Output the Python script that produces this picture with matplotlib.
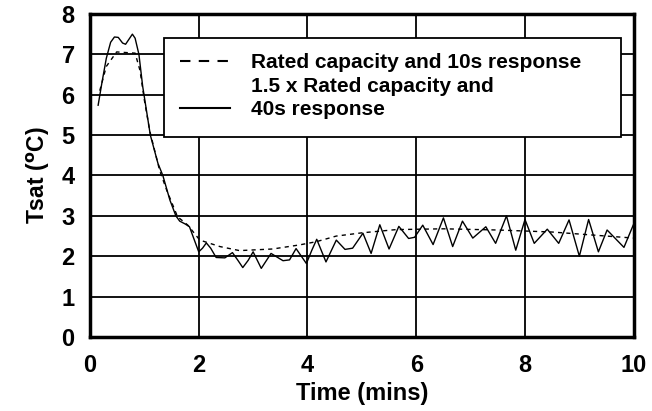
import matplotlib
matplotlib.use('Agg')
from matplotlib import pyplot as plt
from matplotlib.patches import Rectangle
from matplotlib.lines import Line2D

plt.rcParams['font.family'] = ['Liberation Sans', 'DejaVu Sans']
plt.rcParams['font.weight'] = 'bold'

# 1.5 x rated capacity, 40s response (solid)
t_solid = [0.15, 0.22, 0.3, 0.38, 0.45, 0.52, 0.6, 0.655, 0.72, 0.78, 0.83, 0.9,
           0.97, 1.04, 1.11, 1.25, 1.34, 1.47, 1.58, 1.65, 1.75, 1.83, 1.92, 2.0,
           2.07, 2.14, 2.22, 2.32, 2.48, 2.62, 2.72, 2.81, 2.91, 3.0, 3.15, 3.33,
           3.55, 3.67, 3.79, 3.98, 4.08, 4.17, 4.34, 4.53, 4.69, 4.83, 5.02,
           5.17, 5.33, 5.50, 5.68, 5.86, 5.97, 6.12, 6.31, 6.50, 6.67, 6.85, 7.04,
           7.28, 7.46, 7.66, 7.83, 8.0, 8.17, 8.41, 8.62, 8.81, 9.0, 9.17, 9.35,
           9.51, 9.82, 9.99]
y_solid = [5.74, 6.3, 6.9, 7.3, 7.43, 7.42, 7.28, 7.25, 7.38, 7.5, 7.4, 7.0,
           6.2, 5.6, 5.0, 4.3, 4.0, 3.39, 3.0, 2.87, 2.8, 2.73, 2.4, 2.11,
           2.2, 2.33, 2.2, 1.97, 1.96, 2.09, 1.9, 1.72, 1.9, 2.11, 1.70, 2.07,
           1.89, 1.91, 2.19, 1.82, 2.15, 2.42, 1.86, 2.40, 2.17, 2.20, 2.57,
           2.07, 2.78, 2.18, 2.74, 2.44, 2.47, 2.77, 2.29, 2.95, 2.24, 2.87, 2.45,
           2.73, 2.32, 3.0, 2.15, 2.91, 2.32, 2.67, 2.32, 2.90, 2.0, 2.91, 2.11,
           2.65, 2.22, 2.77]

# rated capacity, 10s response (dashed)
t_dash = [0.18, 0.3, 0.49, 0.83, 0.92, 1.0, 1.1, 1.28, 1.41, 1.61, 1.8, 2.02,
          2.39, 2.75, 3.36, 3.85, 4.16, 4.53, 5.0, 5.63, 6.5, 7.5, 8.5, 9.5, 10.0]
y_dash = [6.1, 6.7, 7.06, 7.03, 6.6, 5.87, 5.1, 4.13, 3.64, 2.98, 2.77, 2.40,
          2.24, 2.14, 2.18, 2.28, 2.36, 2.50, 2.58, 2.66, 2.68, 2.65, 2.6, 2.5, 2.45]

labels = ['Rated capacity and 10s response', '1.5 x Rated capacity and', '40s response']

fig = plt.figure(figsize=(6.52, 4.11), dpi=100)
ax = fig.add_axes([0.138, 0.180, 0.834, 0.786])

ax.plot(t_dash, y_dash, color='black', lw=1.0, dashes=(3, 3))
ax.plot(t_solid, y_solid, color='black', lw=1.0)

ax.set_xlim(0, 10)
ax.set_ylim(0, 8)
ax.set_xticks([0, 2, 4, 6, 8, 10])
ax.set_yticks(range(9))
ax.grid(True, color='black', lw=1.3)
ax.set_axisbelow(True)
for s in ax.spines.values():
    s.set_linewidth(2.5)
ax.tick_params(length=0, labelsize=17)
ax.tick_params(axis='y', pad=11)
ax.tick_params(axis='x', pad=12)
ax.set_xlabel('Time (mins)', fontsize=17, fontweight='bold', labelpad=4)
ax.set_ylabel(r'Tsat ($\mathbf{^o}$C)', fontsize=16.5, fontweight='bold', labelpad=7)

# legend box
ax.add_patch(Rectangle((0.136, 0.619), 0.84, 0.307, transform=ax.transAxes,
                       facecolor='white', edgecolor='black', lw=1.3, zorder=5))
handles = [Line2D([], [], color='black', lw=1.5, dashes=(5, 4)),
           Line2D([], [], color='none'),
           Line2D([], [], color='black', lw=1.5)]
leg = ax.legend(handles, labels, loc='upper left', bbox_to_anchor=(0.15, 0.905),
                frameon=False, fontsize=15, handlelength=2.4, handletextpad=1.0,
                labelspacing=0.22, borderaxespad=0)
leg.set_zorder(6)

fig.savefig('out.png', dpi=100)
